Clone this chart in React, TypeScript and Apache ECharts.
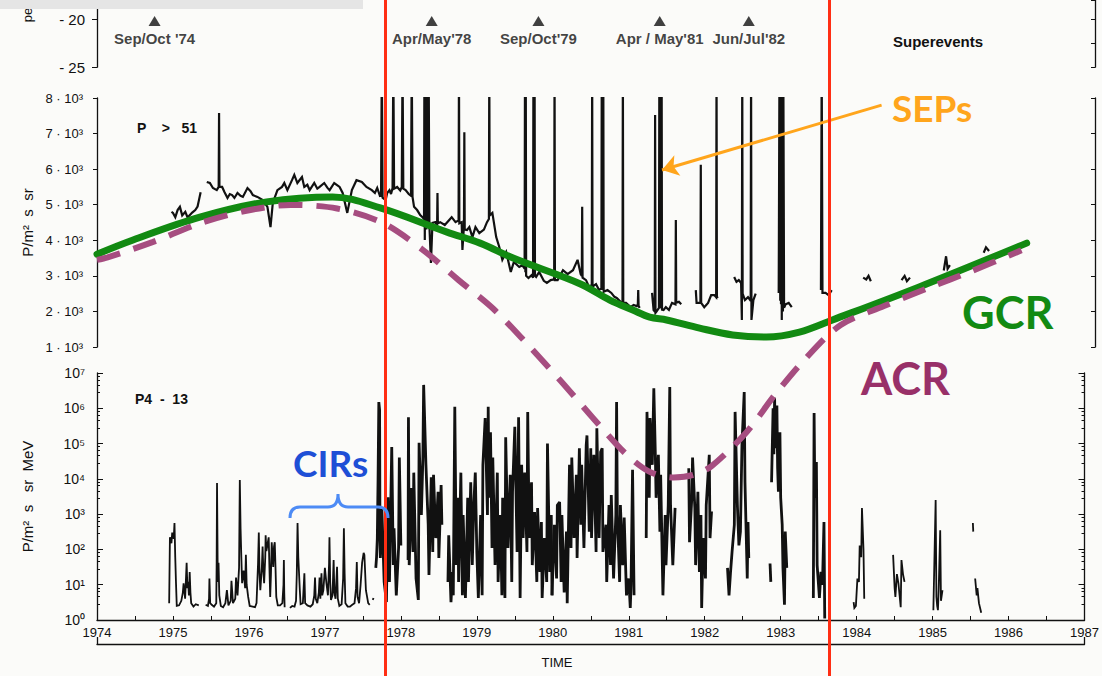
import React, { useEffect, useRef } from "react";
import * as echarts from "echarts";

const YEAR_START = 1974;
const YEAR_END = 1987;

// Superevent markers in the top strip
const eventLabels = ["Sep/Oct '74", "Apr/May'78", "Sep/Oct'79", "Apr / May'81", "Jun/Jul'82"];
const eventYears = [1974.75, 1978.36, 1979.75, 1981.33, 1982.49];
const eventLevel = -20.2;

// Boundaries of the solar-maximum interval
const solarMaxBounds = [1977.75, 1983.54];

// Schematic galactic cosmic ray level (P > 51 panel units)
const gcrYears = [1974.0, 1974.47, 1975.34, 1976.21, 1977.07, 1977.69, 1978.56, 1978.99, 1979.42, 1980.29, 1980.68, 1980.98, 1981.2, 1981.42, 1981.85, 1982.28, 1982.72, 1983.15, 1983.58, 1984.71, 1986.11];
const gcrFlux = [3610, 4010, 4650, 5080, 5220, 4910, 4230, 3920, 3500, 2780, 2320, 2040, 1840, 1760, 1530, 1340, 1280, 1420, 1760, 2690, 3920];

// Schematic anomalous cosmic ray level (P4-13 panel units, log scale)
const acrYears = [1974.0, 1974.14, 1974.73, 1975.34, 1975.95, 1976.55, 1977.16, 1977.76, 1978.28, 1978.76, 1979.22, 1979.65, 1980.12, 1980.52, 1980.95, 1981.27, 1981.59, 1981.85, 1982.09, 1982.55, 1982.93, 1983.33, 1983.79, 1984.36, 1984.95, 1985.52, 1986.17];
const acrFlux = [1.6e10, 1.9e10, 5.1e10, 1.7e11, 3.9e11, 5.8e11, 4.6e11, 1.8e11, 3.2e10, 4.3e9, 6.5e8, 7.1e7, 5.5e6, 5.6e5, 5.4e4, 1.6e4, 1.1e4, 1.3e4, 2.3e4, 2.1e5, 2.5e6, 2.6e7, 2.3e8, 7.9e8, 2.6e9, 7.8e9, 3.0e10];

// P > 51 counting rate, P/m2 s sr (values above 8000 run off the panel top)
const p51Seg1975 = [[1974.97, 4800], [1974.99, 4770], [1975.02, 4650], [1975.05, 4850], [1975.08, 4940], [1975.11, 4700], [1975.15, 4800], [1975.18, 4640], [1975.21, 4710], [1975.24, 4780], [1975.28, 4850], [1975.31, 4950], [1975.33, 5150], [1975.35, 5350]];
const p51Seg1975to1977 = [[1975.43, 5640], [1975.47, 5610], [1975.51, 5470], [1975.56, 5410], [1975.585, 5500], [1975.59, 7580], [1975.595, 5500], [1975.63, 5500], [1975.66, 5360], [1975.7, 5190], [1975.73, 5300], [1975.76, 5270], [1975.79, 5190], [1975.83, 5330], [1975.87, 5250], [1975.9, 5220], [1975.96, 5470], [1976.0, 5380], [1976.03, 5270], [1976.09, 5220], [1976.16, 5130], [1976.22, 4940], [1976.26, 4370], [1976.29, 5050], [1976.35, 5410], [1976.41, 5500], [1976.44, 5610], [1976.48, 5410], [1976.54, 5690], [1976.57, 5840], [1976.61, 5610], [1976.67, 5780], [1976.7, 5500], [1976.74, 5560], [1976.77, 5410], [1976.83, 5610], [1976.87, 5450], [1976.9, 5500], [1976.96, 5610], [1977.0, 5480], [1977.03, 5410], [1977.09, 5610], [1977.16, 5500], [1977.2, 5330], [1977.26, 4770], [1977.32, 5410], [1977.38, 5690], [1977.45, 5640], [1977.51, 5500], [1977.58, 5410], [1977.62, 5330], [1977.65, 5470], [1977.69, 5220]];
const p51Seg1977to1981 = [[1977.7, 5220], [1977.71, 9000], [1977.72, 5200], [1977.76, 5130], [1977.78, 5330], [1977.81, 5410], [1977.83, 5300], [1977.85, 5470], [1977.86, 9000], [1977.87, 5450], [1977.91, 5500], [1977.95, 5400], [1977.97, 5500], [1977.98, 9000], [1977.99, 5450], [1978.02, 5410], [1978.06, 5300], [1978.09, 5250], [1978.1, 9000], [1978.11, 5220], [1978.13, 4940], [1978.17, 4850], [1978.21, 4710], [1978.24, 4650], [1978.26, 4600], [1978.265, 9000], [1978.27, 4010], [1978.28, 9000], [1978.29, 4300], [1978.3, 9000], [1978.31, 4500], [1978.32, 9000], [1978.33, 4400], [1978.35, 3360], [1978.37, 4490], [1978.41, 4510], [1978.43, 4400], [1978.435, 5330], [1978.44, 4480], [1978.47, 4510], [1978.53, 4430], [1978.62, 4650], [1978.67, 4510], [1978.71, 4560], [1978.715, 9000], [1978.72, 4480], [1978.75, 4510], [1978.76, 3730], [1978.78, 4400], [1978.785, 7040], [1978.79, 4300], [1978.82, 4290], [1978.85, 4370], [1978.89, 4090], [1978.93, 4370], [1978.98, 4200], [1979.04, 4300], [1979.08, 4510], [1979.105, 4600], [1979.11, 9000], [1979.115, 4700], [1979.15, 4770], [1979.2, 4090], [1979.24, 3810], [1979.28, 3450], [1979.33, 3670], [1979.39, 3110], [1979.43, 3390], [1979.5, 3250], [1979.54, 3300], [1979.57, 3200], [1979.575, 9000], [1979.58, 3100], [1979.585, 9000], [1979.59, 3000], [1979.62, 2940], [1979.66, 3020], [1979.68, 2950], [1979.685, 9000], [1979.69, 3050], [1979.7, 9000], [1979.705, 3000], [1979.72, 2970], [1979.76, 3110], [1979.82, 2860], [1979.86, 2800], [1979.91, 2880], [1979.955, 2900], [1979.96, 9000], [1979.965, 2880], [1980.0, 2880], [1980.07, 3160], [1980.13, 3050], [1980.2, 3160], [1980.26, 3450], [1980.3, 3050], [1980.315, 3000], [1980.32, 4940], [1980.325, 2950], [1980.37, 2880], [1980.41, 2690], [1980.445, 2750], [1980.45, 9000], [1980.455, 2700], [1980.5, 2770], [1980.54, 2600], [1980.57, 2650], [1980.575, 9000], [1980.58, 2600], [1980.585, 9000], [1980.59, 2620], [1980.595, 9000], [1980.6, 2550], [1980.65, 2600], [1980.7, 2520], [1980.74, 2410], [1980.77, 2380], [1980.82, 2270], [1980.845, 2260], [1980.85, 9000], [1980.855, 2250], [1980.89, 2240], [1980.95, 2120], [1980.99, 2180], [1981.03, 2150], [1981.045, 2200], [1981.05, 2600], [1981.055, 2150], [1981.07, 2100]];
const p51Seg1981 = [[1981.23, 2520], [1981.25, 2040], [1981.265, 2000], [1981.27, 7520], [1981.275, 1960], [1981.29, 2000], [1981.32, 2100], [1981.325, 9000], [1981.33, 2100], [1981.335, 9000], [1981.34, 2100], [1981.345, 9000], [1981.35, 2080], [1981.355, 9000], [1981.36, 2050], [1981.38, 2040], [1981.41, 2120], [1981.45, 2040], [1981.49, 2240], [1981.535, 2200], [1981.54, 4570], [1981.545, 2250], [1981.58, 2270], [1981.61, 2200]];
const p51Seg1982a = [[1981.8, 2600], [1981.81, 2240], [1981.86, 2240], [1981.865, 6120], [1981.87, 2240], [1981.91, 2120], [1981.96, 2240], [1982.0, 2460], [1982.04, 2460], [1982.065, 2400], [1982.07, 9000], [1982.075, 2400], [1982.09, 2420]];
const p51Seg1982b = [[1982.3, 2970], [1982.33, 2830], [1982.36, 2880], [1982.39, 2800], [1982.4, 1760], [1982.405, 9000], [1982.41, 2500], [1982.44, 2320], [1982.48, 2400], [1982.515, 2300], [1982.52, 9000], [1982.525, 1760], [1982.55, 2320], [1982.58, 2500]];
const p51Seg1983a = [[1982.88, 2520], [1982.89, 9000], [1982.9, 2300], [1982.905, 9000], [1982.91, 2200], [1982.915, 9000], [1982.92, 1760], [1982.93, 9000], [1982.935, 2000], [1982.94, 9000], [1982.95, 2100], [1982.97, 2200], [1983.01, 2240], [1983.05, 2120]];
const p51Seg1983b = [[1983.43, 2600], [1983.44, 9000], [1983.45, 2520], [1983.49, 2520], [1983.53, 2460], [1983.57, 2600]];
const p51Seg1984a = [[1983.98, 2950], [1984.02, 2900], [1984.05, 3000], [1984.08, 2850]];
const p51Seg1984b = [[1984.48, 2880], [1984.52, 3000], [1984.55, 2850], [1984.59, 2950]];
const p51Seg1985a = [[1985.03, 3150], [1985.06, 3550], [1985.08, 3200], [1985.11, 3300]];
const p51Seg1985b = [[1985.55, 3650], [1985.58, 3800], [1985.62, 3700]];

// P4-13 differential intensity, P/m2 s sr MeV
const p413Seg1975 = [[1974.95, 3], [1974.96, 220], [1974.98, 150], [1974.99, 300], [1975.01, 200], [1975.02, 560], [1975.03, 60], [1975.04, 11], [1975.05, 2.5], [1975.08, 2.6], [1975.11, 3.5], [1975.13, 6], [1975.14, 11], [1975.16, 4], [1975.18, 42], [1975.19, 8], [1975.2, 12], [1975.21, 5], [1975.22, 23], [1975.23, 6], [1975.24, 3], [1975.27, 2.4], [1975.3, 2.8], [1975.34, 2.6]];
const p413Seg1976 = [[1975.43, 2.7], [1975.46, 2.5], [1975.475, 4], [1975.48, 15], [1975.49, 3], [1975.51, 2.7], [1975.54, 2.4], [1975.57, 3], [1975.575, 40], [1975.58, 7600], [1975.585, 300], [1975.59, 12], [1975.6, 42], [1975.61, 5], [1975.63, 2.5], [1975.66, 2.3], [1975.69, 3], [1975.71, 7], [1975.73, 2.6], [1975.76, 3.5], [1975.77, 13], [1975.79, 3], [1975.82, 4], [1975.83, 16], [1975.85, 5], [1975.87, 30], [1975.88, 9300], [1975.89, 400], [1975.9, 60], [1975.91, 11], [1975.93, 25], [1975.95, 8], [1975.96, 70], [1975.97, 10], [1975.99, 4.5], [1976.01, 2.5], [1976.05, 2.4], [1976.08, 2.3], [1976.1, 3], [1976.12, 40], [1976.13, 300], [1976.14, 20], [1976.15, 7], [1976.17, 30], [1976.18, 120], [1976.19, 25], [1976.2, 11], [1976.215, 60], [1976.22, 250], [1976.23, 90], [1976.245, 140], [1976.26, 220], [1976.27, 30], [1976.28, 4.5], [1976.29, 20], [1976.3, 160], [1976.31, 70], [1976.32, 32], [1976.33, 120], [1976.34, 160], [1976.35, 30], [1976.36, 4.5], [1976.38, 2.6], [1976.41, 2.6], [1976.44, 3], [1976.455, 10], [1976.46, 50], [1976.465, 6], [1976.47, 2.3]];
const p413Seg1977 = [[1976.54, 2.2], [1976.57, 2.5], [1976.6, 2.4], [1976.62, 3.5], [1976.63, 20], [1976.64, 560], [1976.65, 60], [1976.67, 7], [1976.68, 2.8], [1976.71, 3], [1976.72, 8], [1976.73, 21], [1976.74, 3], [1976.77, 2.6], [1976.81, 2.4], [1976.84, 2.8], [1976.86, 5], [1976.87, 16], [1976.88, 4], [1976.9, 3], [1976.92, 6], [1976.93, 16], [1976.94, 4], [1976.955, 21], [1976.965, 5], [1976.98, 7], [1977.0, 30], [1977.02, 11], [1977.04, 5], [1977.055, 40], [1977.06, 220], [1977.07, 12], [1977.08, 3.7], [1977.1, 5], [1977.115, 50], [1977.125, 6], [1977.14, 4], [1977.16, 32], [1977.17, 4], [1977.19, 2.5], [1977.22, 2.8], [1977.24, 15], [1977.25, 400], [1977.26, 20], [1977.27, 3], [1977.3, 2.4], [1977.33, 2.4], [1977.36, 2.7], [1977.39, 3], [1977.41, 8], [1977.42, 44], [1977.43, 4.5], [1977.45, 3], [1977.47, 10], [1977.49, 42], [1977.51, 80], [1977.52, 70], [1977.54, 7], [1977.57, 3], [1977.59, 2.7]];
const p413Dot1977 = [[1977.63, 3.7], [1977.64, 4.2]];
const p413Seg1978a = [[1977.67, 30], [1977.68, 60], [1977.69, 200], [1977.7, 1e4], [1977.71, 1.5e6], [1977.72, 9e5], [1977.725, 220], [1977.73, 57], [1977.75, 1.5e3], [1977.78, 12], [1977.81, 3.2], [1977.83, 3e3], [1977.85, 12], [1977.88, 8e4], [1977.9, 36], [1977.91, 400], [1977.94, 5], [1977.97, 110], [1977.98, 4e4], [1978.0, 130]];
const p413Seg1978b = [[1978.095, 50], [1978.1, 5.6e5], [1978.11, 36], [1978.14, 5.5e3], [1978.16, 85], [1978.17, 1.5e4], [1978.2, 15], [1978.23, 3.7], [1978.24, 1.05e5], [1978.27, 950], [1978.29, 4e4], [1978.3, 4.6e6], [1978.33, 2.5e4], [1978.36, 500], [1978.37, 19], [1978.4, 1.1e4], [1978.42, 85], [1978.43, 1.3e4], [1978.46, 210], [1978.49, 4.3e3], [1978.5, 57], [1978.53, 6.7e3], [1978.54, 500]];
const p413Seg1979 = [[1978.62, 12], [1978.63, 250], [1978.66, 3.2], [1978.68, 23], [1978.69, 5], [1978.71, 1.1e6], [1978.73, 36], [1978.75, 2.9e3], [1978.76, 12], [1978.79, 1.5e4], [1978.81, 5], [1978.82, 950], [1978.85, 4.2], [1978.88, 2.9e3], [1978.89, 12], [1978.92, 8e3], [1978.94, 36], [1978.96, 1.8e3], [1978.98, 1.5e4], [1979.0, 85], [1979.02, 4.2], [1979.05, 950], [1979.07, 5], [1979.08, 2.5e4], [1979.11, 5.3e5], [1979.14, 950], [1979.15, 1.1e6], [1979.16, 2.9e3], [1979.18, 2.1e5], [1979.2, 110], [1979.21, 4e4], [1979.24, 36], [1979.27, 1.5e4], [1979.28, 12], [1979.31, 950], [1979.33, 5], [1979.34, 2.9e3], [1979.37, 4.2], [1979.38, 1.5e5], [1979.41, 110], [1979.44, 1.3e4], [1979.46, 12], [1979.47, 4.3e3], [1979.5, 3e5], [1979.53, 85], [1979.55, 5.6e5], [1979.57, 4.2], [1979.59, 2.5e4], [1979.61, 210], [1979.63, 1.5e4], [1979.66, 85], [1979.67, 7.9e5], [1979.69, 210], [1979.72, 8e3], [1979.73, 36], [1979.76, 1.15e3], [1979.79, 12], [1979.8, 1.5e3], [1979.83, 23], [1979.85, 600], [1979.86, 4.2], [1979.89, 210], [1979.92, 12], [1979.93, 1e5], [1979.96, 23], [1979.98, 950], [1979.99, 5]];
const p413Seg1980 = [[1979.99, 5], [1980.02, 500], [1980.05, 15], [1980.06, 1.8e3], [1980.09, 2.2e3], [1980.11, 12], [1980.12, 950], [1980.15, 6], [1980.18, 320], [1980.19, 3], [1980.22, 2.5e4], [1980.24, 110], [1980.25, 4e4], [1980.28, 210], [1980.31, 1.3e4], [1980.32, 57], [1980.35, 7.4e4], [1980.37, 500], [1980.38, 2.5e4], [1980.41, 110], [1980.44, 9e4], [1980.45, 1.7e5], [1980.48, 320], [1980.5, 7.4e4], [1980.51, 210], [1980.54, 4.8e4], [1980.57, 85], [1980.58, 2.7e5], [1980.61, 210], [1980.63, 5.8e4], [1980.65, 7.4e4], [1980.66, 85], [1980.7, 500], [1980.71, 12], [1980.74, 1.8e3], [1980.76, 36], [1980.77, 3.5e3], [1980.8, 15], [1980.83, 950], [1980.84, 1.5e6], [1980.85, 950], [1980.88, 12], [1980.89, 1.8e3], [1980.92, 36], [1980.94, 800], [1980.97, 5], [1981.0, 15], [1981.02, 2.2], [1981.03, 10], [1981.05, 1.8e4], [1981.07, 5]];
const p413Seg1981 = [[1981.23, 210], [1981.24, 7.9e5], [1981.27, 2.9e3], [1981.28, 5.3e5], [1981.31, 2.5e4], [1981.33, 3.7e6], [1981.35, 4.8e4], [1981.36, 2.9e3], [1981.39, 4.8e4], [1981.41, 320], [1981.42, 1.3e4], [1981.45, 5], [1981.48, 950], [1981.49, 36], [1981.52, 1.8e3], [1981.54, 4e6], [1981.55, 1.8e3], [1981.58, 36], [1981.61, 1.5e3]];
const p413Seg1982a = [[1981.79, 2e4], [1981.8, 160], [1981.83, 2.9e3], [1981.84, 4e4], [1981.87, 1.5e3], [1981.88, 36], [1981.91, 4.3e3], [1981.93, 23], [1981.95, 950], [1981.96, 2.2], [1981.98, 210], [1982.01, 15], [1982.02, 1.8e3], [1982.06, 4.8e4], [1982.07, 210], [1982.09, 1.2e3]];
const p413Seg1982b = [[1982.3, 30], [1982.32, 5], [1982.34, 23], [1982.36, 85], [1982.39, 500], [1982.4, 7.9e5], [1982.43, 1.8e3], [1982.45, 130], [1982.47, 320], [1982.49, 9e4], [1982.52, 2.9e6], [1982.53, 8e3], [1982.56, 15], [1982.57, 600], [1982.58, 57]];
const p413Tick1982 = [[1982.86, 40], [1982.87, 12]];
const p413Seg1983a = [[1982.88, 8e3], [1982.9, 1e6], [1982.91, 5e4], [1982.92, 2e6], [1982.93, 7.4e4], [1982.95, 1.2e6], [1982.96, 2e4], [1982.97, 4.3e3], [1982.99, 2.1e5], [1983.0, 2.9e3], [1983.02, 500], [1983.03, 30], [1983.05, 2.7], [1983.06, 320], [1983.08, 30]];
const p413Seg1983b = [[1983.43, 4.2], [1983.44, 7.4e5], [1983.45, 2.9e3], [1983.47, 3e4], [1983.48, 36], [1983.51, 4.2], [1983.53, 23], [1983.55, 10], [1983.57, 600], [1983.58, 1.1]];
const p413Seg1984a = [[1983.96, 3.2], [1983.97, 2.2], [1983.99, 2.5], [1984.01, 15], [1984.03, 12], [1984.04, 130], [1984.06, 60], [1984.07, 1.5e3], [1984.09, 100], [1984.1, 4]];
const p413Seg1984b = [[1984.48, 70], [1984.5, 8], [1984.51, 4.5], [1984.53, 20], [1984.55, 11], [1984.58, 2.3], [1984.59, 50], [1984.61, 20], [1984.63, 12]];
const p413Seg1985a = [[1985.01, 1.9], [1985.04, 2500], [1985.05, 4.5], [1985.06, 2.5], [1985.07, 1.9], [1985.08, 7], [1985.1, 350], [1985.11, 3.5], [1985.13, 7]];
const p413Seg1985b = [[1985.53, 560], [1985.535, 320]];
const p413Seg1985c = [[1985.56, 15], [1985.58, 5], [1985.59, 8], [1985.61, 3], [1985.64, 1.6]];

const p51Segments = [p51Seg1975, p51Seg1975to1977, p51Seg1977to1981, p51Seg1981, p51Seg1982a, p51Seg1982b, p51Seg1983a, p51Seg1983b, p51Seg1984a, p51Seg1984b, p51Seg1985a, p51Seg1985b];
const p413QuietSegments = [p413Seg1975, p413Seg1976, p413Seg1977, p413Dot1977, p413Seg1984a, p413Seg1984b, p413Seg1985a, p413Seg1985b, p413Seg1985c];
const p413ActiveSegments = [p413Seg1978a, p413Seg1978b, p413Seg1979, p413Seg1980, p413Seg1981, p413Seg1982a, p413Seg1982b, p413Tick1982, p413Seg1983a, p413Seg1983b];

const SUPERSCRIPTS = ["⁰", "¹", "²", "³", "⁴", "⁵", "⁶", "⁷"];

const INK = "#111111";
const FIG_FONT = "'Liberation Sans', Arial, sans-serif";
const NOTE_FONT = "Lato, 'Open Sans', sans-serif";
const RED = "#FF2E14";
const ORANGE = "#FFA51C";
const GREEN = "#128A12";
const PURPLE_LINE = "#A64D80";
const PURPLE_TEXT = "#983068";
const BLUE_TEXT = "#1E4FD6";
const BLUE_BRACE = "#4D8BF5";

// Curly brace drawn under the CIRs note
const BRACE_PATH = "M0 24 Q0 13 10 13 L38 13 Q48 13 48 0 Q48 13 58 13 L88 13 Q98 13 98 24";
echarts.graphic.registerShape("cirBrace", echarts.graphic.extendPath(BRACE_PATH, {}));

function traceSeries(data: number[][], xAxisIndex: number, yAxisIndex: number, width: number) {
  return {
    type: "line",
    xAxisIndex,
    yAxisIndex,
    data,
    symbol: "none",
    showSymbol: false,
    silent: true,
    z: 2,
    lineStyle: { color: INK, width, join: "miter", miterLimit: 3 },
    emphasis: { disabled: true },
  };
}

function noteText(text: string, x: number, y: number, fill: string, size: number) {
  return {
    type: "text",
    x,
    y,
    z: 100,
    style: { text, fill, fontFamily: NOTE_FONT, fontSize: size, fontWeight: "bold", verticalAlign: "middle" },
  };
}

function figText(text: string, x: number, y: number, size: number, weight = "bold", align = "left") {
  return {
    type: "text",
    x,
    y,
    z: 100,
    style: { text, fill: INK, fontFamily: FIG_FONT, fontSize: size, fontWeight: weight, align, verticalAlign: "middle" },
  };
}

function buildOption() {
  const axisLine = { show: true, lineStyle: { color: INK, width: 1.3 } };
  const labelStyle = { color: INK, fontFamily: FIG_FONT, fontSize: 13 };

  return {
    animation: false,
    backgroundColor: "#fbfbf9",
    grid: [
      { left: 97, right: 7, top: 0, height: 67.2 },
      { left: 97, right: 7, top: 98, height: 249 },
      { left: 97, right: 7, top: 373, height: 247 },
      { left: 97, right: 7, top: 0, height: 676 },
    ],
    xAxis: [
      { gridIndex: 0, type: "value", min: YEAR_START, max: YEAR_END, show: false },
      { gridIndex: 1, type: "value", min: YEAR_START, max: YEAR_END, show: false },
      {
        gridIndex: 2,
        type: "value",
        min: YEAR_START,
        max: YEAR_END,
        interval: 0.5,
        axisLine,
        axisTick: { show: true, inside: true, length: 4, lineStyle: { color: INK } },
        axisLabel: { ...labelStyle, margin: 6, formatter: (v: number) => (Number.isInteger(v) ? String(v) : "") },
        splitLine: { show: false },
      },
      {
        gridIndex: 2,
        type: "value",
        position: "bottom",
        offset: 24,
        min: 0,
        max: YEAR_END - YEAR_START,
        interval: YEAR_END - YEAR_START,
        axisLine,
        axisTick: { show: true, inside: true, length: 7, lineStyle: { color: INK, width: 1.3 } },
        axisLabel: { show: false },
        splitLine: { show: false },
      },
      { gridIndex: 3, type: "value", min: YEAR_START, max: YEAR_END, show: false },
    ],
    yAxis: [
      {
        gridIndex: 0,
        type: "value",
        min: -25,
        max: -18,
        interval: 5,
        axisLine,
        axisTick: { show: true, length: 5, lineStyle: { color: INK } },
        axisLabel: { ...labelStyle, fontSize: 15, margin: 12, formatter: (v: number) => (v === -20 || v === -25 ? "- " + Math.abs(v) : "") },
        splitLine: { show: false },
      },
      {
        gridIndex: 0,
        type: "value",
        position: "right",
        min: -25,
        max: -18,
        interval: 2.5,
        axisLine,
        axisTick: { show: true, inside: true, length: 4, lineStyle: { color: INK } },
        axisLabel: { show: false },
        splitLine: { show: false },
      },
      {
        gridIndex: 1,
        type: "value",
        min: 1000,
        max: 8000,
        interval: 1000,
        axisLine,
        axisTick: { show: true, length: 4, lineStyle: { color: INK } },
        axisLabel: { ...labelStyle, margin: 14, formatter: (v: number) => `${v / 1000} · 10³` },
        splitLine: { show: false },
        name: "P/m²  s  sr",
        nameLocation: "middle",
        nameRotate: 90,
        nameGap: 62,
        nameTextStyle: { color: INK, fontFamily: FIG_FONT, fontSize: 15 },
      },
      {
        gridIndex: 1,
        type: "value",
        position: "right",
        min: 1000,
        max: 8000,
        interval: 1000,
        axisLine,
        axisTick: { show: true, inside: true, length: 4, lineStyle: { color: INK } },
        axisLabel: { show: false },
        splitLine: { show: false },
      },
      {
        gridIndex: 2,
        type: "log",
        logBase: 10,
        min: 1,
        max: 1e7,
        axisLine,
        axisTick: { show: true, inside: true, length: 6, lineStyle: { color: INK } },
        minorTick: { show: true, splitNumber: 5, length: 3, lineStyle: { color: INK } },
        axisLabel: { ...labelStyle, fontSize: 14, margin: 12, formatter: (v: number) => "10" + SUPERSCRIPTS[Math.round(Math.log10(v))] },
        splitLine: { show: false },
        name: "P/m²  s   sr  MeV",
        nameLocation: "middle",
        nameRotate: 90,
        nameGap: 62,
        nameTextStyle: { color: INK, fontFamily: FIG_FONT, fontSize: 15 },
      },
      {
        gridIndex: 2,
        type: "log",
        logBase: 10,
        position: "right",
        min: 1,
        max: 1e7,
        axisLine,
        axisTick: { show: true, inside: true, length: 6, lineStyle: { color: INK } },
        minorTick: { show: true, splitNumber: 5, length: 3, lineStyle: { color: INK } },
        axisLabel: { show: false },
        splitLine: { show: false },
      },
      { gridIndex: 3, type: "value", min: 0, max: 1, show: false },
    ],
    series: [
      {
        type: "scatter",
        xAxisIndex: 0,
        yAxisIndex: 0,
        symbol: "triangle",
        symbolSize: [12, 10],
        itemStyle: { color: INK },
        silent: true,
        data: eventYears.map((t, i) => ({ value: [t, eventLevel], name: eventLabels[i] })),
        label: {
          show: true,
          position: "bottom",
          distance: 5,
          formatter: (p: any) => p.name,
          color: INK,
          fontFamily: FIG_FONT,
          fontSize: 15,
          fontWeight: "bold",
        },
      },
      ...p51Segments.map((seg) => traceSeries(seg, 1, 2, 2.2)),
      ...p413QuietSegments.map((seg) => traceSeries(seg, 2, 4, 1.8)),
      ...p413ActiveSegments.map((seg) => traceSeries(seg, 2, 4, 2.8)),
      {
        type: "line",
        name: "GCR",
        xAxisIndex: 1,
        yAxisIndex: 2,
        data: gcrYears.map((t, i) => [t, gcrFlux[i]]),
        smooth: 0.35,
        symbol: "none",
        showSymbol: false,
        silent: true,
        z: 3,
        lineStyle: { color: GREEN, width: 7, cap: "round" },
        markLine: {
          silent: true,
          symbol: ["none", "arrow"],
          symbolSize: 16,
          label: { show: false },
          lineStyle: { color: ORANGE, width: 3, type: "solid" },
          data: [[{ coord: [1984.22, 7800] }, { coord: [1981.36, 5975] }]],
        },
      },
      {
        type: "line",
        name: "ACR",
        xAxisIndex: 2,
        yAxisIndex: 4,
        data: acrYears.map((t, i) => [t, acrFlux[i]]),
        smooth: 0.3,
        clip: false,
        symbol: "none",
        showSymbol: false,
        silent: true,
        z: 4,
        lineStyle: { color: PURPLE_LINE, width: 6, type: [24, 14], cap: "butt" },
      },
      {
        type: "line",
        xAxisIndex: 4,
        yAxisIndex: 6,
        data: [[YEAR_START, -1]],
        symbol: "none",
        showSymbol: false,
        silent: true,
        z: 6,
        markLine: {
          silent: true,
          symbol: ["none", "none"],
          label: { show: false },
          lineStyle: { color: RED, width: 3, type: "solid" },
          data: solarMaxBounds.map((t) => ({ xAxis: t })),
        },
      },
    ],
    graphic: [
      { type: "rect", z: 100, shape: { x: 0, y: 0, width: 363, height: 9 }, style: { fill: "#e5e5e5" } },
      { type: "text", x: 27, y: 15, rotation: Math.PI / 2, z: 99, style: { text: "pe", fill: INK, fontFamily: FIG_FONT, fontSize: 13, align: "center", verticalAlign: "middle" } },
      figText("Superevents", 938, 41, 15, "bold", "center"),
      figText("P    >   51", 137, 128, 14),
      figText("P4  -  13", 135, 399, 14),
      figText("TIME", 557, 662, 13, "normal", "center"),
      noteText("SEPs", 892, 107, ORANGE, 37),
      noteText("GCR", 962, 312, GREEN, 45),
      noteText("ACR", 861, 378, PURPLE_TEXT, 45),
      noteText("CIRs", 293, 462, BLUE_TEXT, 37),
      { type: "cirBrace", x: 290, y: 494, z: 100, style: { fill: "none", stroke: BLUE_BRACE, lineWidth: 3 } },
    ],
  };
}

export default function App() {
  const ref = useRef<HTMLDivElement>(null);
  useEffect(() => {
    if (!ref.current) return;
    const chart = echarts.init(ref.current, null, { renderer: "svg" });
    chart.setOption(buildOption() as any);
    return () => chart.dispose();
  }, []);
  return <div ref={ref} style={{ position: "absolute", left: 0, top: 0, width: 1102, height: 676 }} />;
}
